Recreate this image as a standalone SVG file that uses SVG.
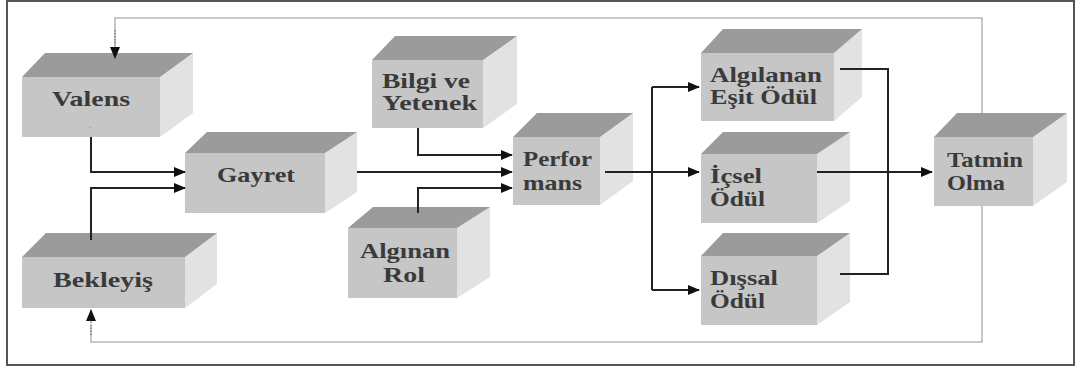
<svg xmlns="http://www.w3.org/2000/svg" width="1081" height="373" viewBox="0 0 1081 373">
<defs>
<marker id="ah" markerWidth="12" markerHeight="10" refX="11" refY="5" orient="auto" markerUnits="userSpaceOnUse">
<path d="M0,0 L12,5 L0,10 Z" fill="#111"/>
</marker>
<style>
.front{fill:#c6c6c6}
.top{fill:#9b9b9b}
.side{fill:#e2e2e2}
.lbl{font-family:"Liberation Serif","Times New Roman",serif;font-weight:bold;font-size:21px;fill:#3a3a3a}
.conn{fill:none;stroke:#222;stroke-width:2}
.fb{fill:none;stroke:#b8b8b8;stroke-width:1.6}
.fbd{fill:none;stroke:#888;stroke-width:1.6;stroke-dasharray:1.5,1.5}
</style>
</defs>
<rect x="0" y="0" width="1081" height="373" fill="#fff"/>
<rect x="7" y="1" width="1067" height="364" fill="none" stroke="#555" stroke-width="2"/>

<g id="valens">
<polygon class="side" points="160,77 193,53 193,113 160,137"/>
<polygon class="top" points="22,77 45,53 193,53 160,77"/>
<rect class="front" x="22" y="77" width="138" height="60"/>
<text class="lbl" x="52" y="106" textLength="78" lengthAdjust="spacingAndGlyphs">Valens</text>
<text class="lbl" x="89" y="128" style="font-size:8px;fill:#999">.</text>
</g>

<g id="gayret">
<polygon class="side" points="325,153 357,132 357,192 325,213"/>
<polygon class="top" points="185,153 207,132 357,132 325,153"/>
<rect class="front" x="185" y="153" width="140" height="60"/>
<text class="lbl" x="217" y="182" textLength="78" lengthAdjust="spacingAndGlyphs">Gayret</text>
</g>

<g id="bekleyis">
<polygon class="side" points="185,257 217,233 217,284 185,308"/>
<polygon class="top" points="22,257 46,233 217,233 185,257"/>
<rect class="front" x="22" y="257" width="163" height="51"/>
<text class="lbl" x="53" y="287" textLength="100" lengthAdjust="spacingAndGlyphs">Bekleyiş</text>
</g>

<g id="bilgi">
<polygon class="side" points="483,60 517,36 517,104 483,128"/>
<polygon class="top" points="372,60 395,36 517,36 483,60"/>
<rect class="front" x="372" y="60" width="111" height="68"/>
<text class="lbl" x="382" y="88" textLength="88" lengthAdjust="spacingAndGlyphs">Bilgi ve</text>
<text class="lbl" x="382" y="110" textLength="95" lengthAdjust="spacingAndGlyphs">Yetenek</text>
</g>

<g id="performans">
<polygon class="side" points="600,137 633,113 633,181 600,205"/>
<polygon class="top" points="513,137 537,113 633,113 600,137"/>
<rect class="front" x="513" y="137" width="87" height="68"/>
<text class="lbl" x="523" y="166" textLength="69" lengthAdjust="spacingAndGlyphs">Perfor</text>
<text class="lbl" x="523" y="190" textLength="59" lengthAdjust="spacingAndGlyphs">mans</text>
</g>

<g id="alginan-rol">
<polygon class="side" points="457,228 490,207 490,277 457,298"/>
<polygon class="top" points="348,228 373,207 490,207 457,228"/>
<rect class="front" x="348" y="228" width="109" height="70"/>
<text class="lbl" x="360" y="258" textLength="90" lengthAdjust="spacingAndGlyphs">Algınan</text>
<text class="lbl" x="383" y="282" textLength="42" lengthAdjust="spacingAndGlyphs">Rol</text>
</g>

<g id="algilanan">
<polygon class="side" points="834,53 862,29 862,97 834,121"/>
<polygon class="top" points="701,53 723,29 862,29 834,53"/>
<rect class="front" x="701" y="53" width="133" height="68"/>
<text class="lbl" x="710" y="82" textLength="112" lengthAdjust="spacingAndGlyphs">Algılanan</text>
<text class="lbl" x="710" y="104" textLength="107" lengthAdjust="spacingAndGlyphs">Eşit Ödül</text>
</g>

<g id="icsel">
<polygon class="side" points="817,154 850,132 850,201 817,223"/>
<polygon class="top" points="701,154 723,132 850,132 817,154"/>
<rect class="front" x="701" y="154" width="116" height="69"/>
<text class="lbl" x="710" y="183" textLength="52" lengthAdjust="spacingAndGlyphs">İçsel</text>
<text class="lbl" x="710" y="206" textLength="55" lengthAdjust="spacingAndGlyphs">Ödül</text>
</g>

<g id="dissal">
<polygon class="side" points="817,256 850,233 850,302 817,325"/>
<polygon class="top" points="701,256 723,233 850,233 817,256"/>
<rect class="front" x="701" y="256" width="116" height="69"/>
<text class="lbl" x="710" y="285" textLength="68" lengthAdjust="spacingAndGlyphs">Dışsal</text>
<text class="lbl" x="710" y="308" textLength="55" lengthAdjust="spacingAndGlyphs">Ödül</text>
</g>

<g id="tatmin">
<polygon class="side" points="1033,137 1067,113 1067,182 1033,206"/>
<polygon class="top" points="934,137 957,113 1067,113 1033,137"/>
<rect class="front" x="934" y="137" width="99" height="69"/>
<text class="lbl" x="947" y="167" textLength="76" lengthAdjust="spacingAndGlyphs">Tatmin</text>
<text class="lbl" x="947" y="190" textLength="58" lengthAdjust="spacingAndGlyphs">Olma</text>
</g>

<g id="connectors">
<path class="fb" d="M982,113 V18 H115 V45"/>
<path class="fbd" d="M115,30 V58" marker-end="url(#ah)"/>
<path class="fb" d="M982,206 V342 H91 V325"/>
<path class="fbd" d="M91,335 V310" marker-end="url(#ah)"/>
<path class="conn" d="M91,137 V172 H185" marker-end="url(#ah)"/>
<path class="conn" d="M91,240 V188 H185" marker-end="url(#ah)"/>
<path class="conn" d="M357,172 H512" marker-end="url(#ah)"/>
<path class="conn" d="M418,128 V155 H512" marker-end="url(#ah)"/>
<path class="conn" d="M418,213 V188 H512" marker-end="url(#ah)"/>
<path class="conn" d="M605,172 H699" marker-end="url(#ah)"/>
<path class="conn" d="M652,87 V290"/>
<path class="conn" d="M652,87 H699" marker-end="url(#ah)"/>
<path class="conn" d="M652,290 H699" marker-end="url(#ah)"/>
<path class="conn" d="M840,69 H888 V274 H840"/>
<path class="conn" d="M817,172 H932" marker-end="url(#ah)"/>
</g>
</svg>
